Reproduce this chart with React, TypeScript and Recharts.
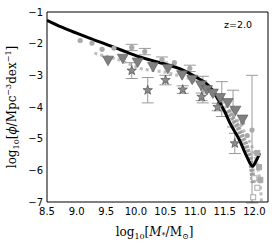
import React from 'react';
import {
  ComposedChart,
  XAxis,
  YAxis,
  Line,
  Scatter,
  ErrorBar,
} from 'recharts';

// x ticks and y ticks
const xTicks = [8.5, 9.0, 9.5, 10.0, 10.5, 11.0, 11.5, 12.0];
const yTicks = [-7, -6, -5, -4, -3, -2, -1];

// model curve (black)
const modelX = [8.5, 8.75, 9.0, 9.25, 9.5, 9.75, 10.0, 10.25, 10.5, 10.75, 11.0, 11.25, 11.4, 11.5, 11.6, 11.75, 11.88, 11.97, 12.03, 12.09];
const modelY = [-1.26, -1.48, -1.67, -1.85, -2.02, -2.2, -2.38, -2.52, -2.65, -2.8, -3.04, -3.37, -3.8, -4.15, -4.55, -5.05, -5.6, -5.87, -5.7, -5.46];

// light dashed comparison curve
const dashX = [9.3, 9.7, 10.1, 10.5, 10.9, 11.2, 11.5, 11.75, 11.95, 12.05, 12.1, 12.12];
const dashY = [-2.3, -2.5, -2.8, -2.9, -3.1, -3.4, -3.95, -4.5, -5.2, -5.8, -6.4, -7.0];

// thick grey band at high mass
const bandX = [11.55, 11.7, 11.85, 11.93, 11.96, 11.98];
const bandY = [-4.1, -4.55, -5.15, -5.6, -6.0, -6.4];

// downward triangles
const triX = [9.53, 9.78, 10.03, 10.29, 10.54, 10.78, 10.95, 11.1, 11.2, 11.3, 11.42, 11.55, 11.68, 11.8];
const triY = [-2.52, -2.46, -2.58, -2.72, -2.78, -2.98, -3.12, -3.3, -3.45, -3.56, -3.7, -3.86, -4.1, -4.38];

// stars with errors
const starX = [9.93, 10.2, 10.5, 10.79, 11.11, 11.38, 11.67];
const starY = [-2.85, -3.47, -3.15, -3.45, -3.68, -4.0, -5.15];
const starErr = [0.25, 0.4, 0.15, 0.12, 0.12, 0.12, 0.32];

// light circles
const dotX = [9.06, 9.26, 9.43, 9.63, 10.65, 11.3, 11.8, 11.88];
const dotY = [-1.9, -1.98, -2.18, -2.14, -2.6, -3.6, -4.5, -4.9];

// light circles with error bars
const dotEX = [9.93, 10.15, 10.44, 10.91, 11.13, 11.45, 11.64, 11.96];
const dotEY = [-2.12, -2.25, -2.5, -2.78, -3.45, -3.75, -4.05, -4.73];
const dotELo = [0.1, 0.1, 0.08, 0.1, 0.42, 0.55, 0.58, 2.3];
const dotEHi = [0.1, 0.1, 0.08, 0.1, 0.42, 0.55, 0.58, 1.73];

// squares at the high mass end
const sqX = [12.05, 12.08, 12.1, 12.0, 12.05, 11.98];
const sqY = [-5.45, -5.9, -6.3, -6.25, -6.55, -6.85];

const pts = (xs: number[], ys: number[]) => xs.map((x, i) => ({ x, y: ys[i] }));

const modelData = pts(modelX, modelY);
const dashData = pts(dashX, dashY);
const bandData = pts(bandX, bandY);
const triData = pts(triX, triY);
const starData = starX.map((x, i) => ({ x, y: starY[i], err: starErr[i] }));
const dotData = pts(dotX, dotY);
const dotEData = dotEX.map((x, i) => ({ x, y: dotEY[i], err: [dotELo[i], dotEHi[i]] }));
const sqData = pts(sqX, sqY);

const fmt = (v: number) => (v < 0 ? '\u2212' + Math.abs(v) : String(v));

const Triangle = (props: any) => {
  const { cx, cy } = props;
  return (
    <polygon
      points={`${cx - 5.5},${cy - 4} ${cx + 5.5},${cy - 4} ${cx},${cy + 5.5}`}
      fill="#808080"
      stroke="#555"
      strokeWidth={0.6}
    />
  );
};

const Star = (props: any) => {
  const { cx, cy } = props;
  const p: string[] = [];
  for (let i = 0; i < 10; i++) {
    const r = i % 2 === 0 ? 5 : 2.1;
    const a = -Math.PI / 2 + (i * Math.PI) / 5;
    p.push(`${cx + r * Math.cos(a)},${cy + r * Math.sin(a)}`);
  }
  return <polygon points={p.join(' ')} fill="#8a8a8a" stroke="#444" strokeWidth={0.6} />;
};

const Dot = (props: any) => {
  const { cx, cy } = props;
  return <circle cx={cx} cy={cy} r={2.6} fill="#a9a9a9" stroke="none" />;
};

const Square = (props: any) => {
  const { cx, cy, index } = props;
  const filled = index < 3;
  return (
    <rect
      x={cx - 2.5}
      y={cy - 2.5}
      width={5}
      height={5}
      fill={filled ? '#a9a9a9' : '#fff'}
      stroke="#a9a9a9"
      strokeWidth={1}
    />
  );
};

const XLabel = (props: any) => {
  const { viewBox } = props;
  const cx = viewBox.x + viewBox.width / 2 - 3;
  return (
    <text x={cx} y={236} textAnchor="middle" fontFamily="DejaVu Serif" fontSize={12} fill="#000">
      log<tspan fontSize={8} dy={3}>10</tspan>
      <tspan dy={-3}>[</tspan>
      <tspan fontStyle="italic">M</tspan>
      <tspan fontSize={8} dy={2}>*</tspan>
      <tspan dy={-2}>/M</tspan>
      <tspan fontSize={8} dy={3}>{'\u2299'}</tspan>
      <tspan dy={-3}>]</tspan>
    </text>
  );
};

const YLabel = (props: any) => {
  const { viewBox } = props;
  const cy = viewBox.y + viewBox.height / 2;
  return (
    <text
      x={0}
      y={0}
      transform={`translate(16, ${cy}) rotate(-90)`}
      textAnchor="middle"
      fontFamily="DejaVu Serif"
      fontSize={12}
      fill="#000"
    >
      log<tspan fontSize={8} dy={3}>10</tspan>
      <tspan dy={-3}>[</tspan>
      <tspan fontStyle="italic">{'\u03d5'}</tspan>
      <tspan>/Mpc</tspan>
      <tspan fontSize={8} dy={-5}>{'\u22123'}</tspan>
      <tspan dy={5}>dex</tspan>
      <tspan fontSize={8} dy={-5}>{'\u22121'}</tspan>
      <tspan dy={5}>]</tspan>
    </text>
  );
};

const tickStyle = { fontFamily: 'DejaVu Sans', fontSize: 10, fill: '#000' };

export default function App() {
  return (
    <div style={{ position: 'absolute', left: 0, top: 0, background: '#fff' }}>
      <ComposedChart width={275} height={246} margin={{ top: 12, right: 7, left: 0, bottom: 14 }}>
        <XAxis
          xAxisId={0}
          dataKey="x"
          type="number"
          domain={[8.5, 12.23]}
          ticks={xTicks}
          tickFormatter={(v) => v.toFixed(1)}
          allowDataOverflow
          height={30}
          tickLine={false}
          tickSize={0}
          tickMargin={6}
          tick={tickStyle}
          axisLine={{ stroke: '#000', strokeWidth: 1 }}
          label={<XLabel />}
        />
        <XAxis
          xAxisId="mb"
          dataKey="x"
          type="number"
          domain={[8.5, 12.23]}
          ticks={xTicks}
          allowDataOverflow
          mirror
          tick={false}
          tickSize={4}
          tickLine={{ stroke: '#000' }}
          axisLine={false}
        />
        <XAxis
          xAxisId="mt"
          orientation="top"
          dataKey="x"
          type="number"
          domain={[8.5, 12.23]}
          ticks={xTicks}
          allowDataOverflow
          mirror
          tick={false}
          tickSize={4}
          tickLine={{ stroke: '#000' }}
          axisLine={{ stroke: '#000', strokeWidth: 1 }}
        />
        <YAxis
          yAxisId={0}
          type="number"
          domain={[-7, -1]}
          ticks={yTicks}
          tickFormatter={fmt}
          allowDataOverflow
          width={47}
          tickLine={false}
          tickSize={0}
          tickMargin={4}
          tick={tickStyle}
          axisLine={{ stroke: '#000', strokeWidth: 1 }}
          label={<YLabel />}
        />
        <YAxis
          yAxisId="ml"
          type="number"
          domain={[-7, -1]}
          ticks={yTicks}
          allowDataOverflow
          mirror
          tick={false}
          tickSize={4}
          tickLine={{ stroke: '#000' }}
          axisLine={false}
        />
        <YAxis
          yAxisId="mr"
          orientation="right"
          type="number"
          domain={[-7, -1]}
          ticks={yTicks}
          allowDataOverflow
          mirror
          tick={false}
          tickSize={4}
          tickLine={{ stroke: '#000' }}
          axisLine={{ stroke: '#000', strokeWidth: 1 }}
        />

        <Line
          data={dashData}
          dataKey="y"
          type="linear"
          stroke="#bdbdbd"
          strokeWidth={3}
          strokeDasharray="3 3"
          dot={false}
          isAnimationActive={false}
        />
        <Line
          data={bandData}
          dataKey="y"
          type="linear"
          stroke="#a0a0a0"
          strokeWidth={5}
          strokeDasharray="3 1"
          dot={false}
          isAnimationActive={false}
        />
        <Scatter data={sqData} dataKey="y" shape={<Square />} isAnimationActive={false} />
        <Scatter data={dotData} dataKey="y" shape={<Dot />} isAnimationActive={false} />
        <Scatter data={dotEData} dataKey="y" shape={<Dot />} isAnimationActive={false}>
          <ErrorBar dataKey="err" direction="y" width={6} stroke="#9a9a9a" strokeWidth={1} />
        </Scatter>
        <Scatter data={starData} dataKey="y" shape={<Star />} isAnimationActive={false}>
          <ErrorBar dataKey="err" direction="y" width={6} stroke="#9a9a9a" strokeWidth={1} />
        </Scatter>
        <Scatter data={triData} dataKey="y" shape={<Triangle />} isAnimationActive={false} />
        <Line
          data={modelData}
          dataKey="y"
          type="monotone"
          stroke="#000"
          strokeWidth={3}
          dot={false}
          isAnimationActive={false}
        />
        <text x={252} y={28} textAnchor="end" fontFamily="DejaVu Sans" fontSize={9.5} fill="#000">
          z=2.0
        </text>
      </ComposedChart>
    </div>
  );
}
